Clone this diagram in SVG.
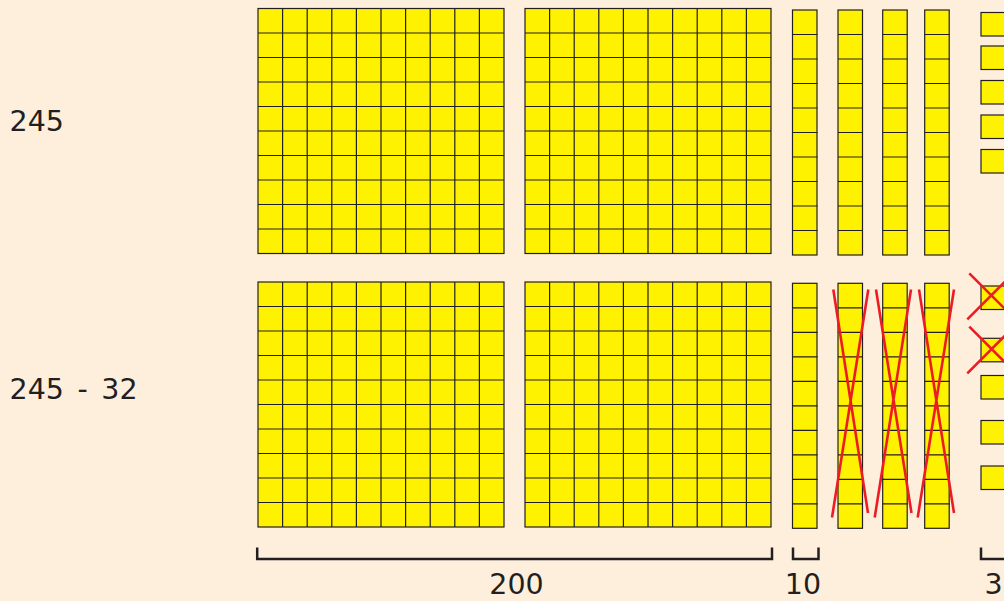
<svg xmlns="http://www.w3.org/2000/svg" xmlns:xlink="http://www.w3.org/1999/xlink" width="1004" height="601" viewBox="0 0 1004 601">
<style>
.blk{fill:#fff200;stroke:#231f20;stroke-width:1.2}
.grid{fill:none;stroke:#231f20;stroke-width:1.2}
.strike{stroke:#ed1c24;stroke-width:2.6;fill:none;stroke-linecap:butt}
.brk{fill:none;stroke:#231f20;stroke-width:2.5}
.lbl{font-family:"DejaVu Sans","Verdana",sans-serif;font-size:28.5px;fill:#231f20}
</style>
<defs>
<g id="hundred">
<rect class="blk" x="0" y="0" width="246" height="245"/>
<path class="grid" d="M24.6 0V245M49.2 0V245M73.8 0V245M98.4 0V245M123 0V245M147.6 0V245M172.2 0V245M196.8 0V245M221.4 0V245M0 24.5H246M0 49H246M0 73.5H246M0 98H246M0 122.5H246M0 147H246M0 171.5H246M0 196H246M0 220.5H246"/>
</g>
<g id="ten">
<rect class="blk" x="0" y="0" width="24.5" height="245"/>
<path class="grid" d="M0 24.5H25M0 49H25M0 73.5H25M0 98H25M0 122.5H25M0 147H25M0 171.5H25M0 196H25M0 220.5H25"/>
</g>
<rect id="one" class="blk" x="0" y="0" width="24" height="23.5"/>
</defs>
<rect width="1004" height="601" fill="#fdefdc"/>

<g id="label-245"><text class="lbl" x="9.5" y="131">245</text></g>
<g id="label-245-32"><text class="lbl" x="9.5" y="399" word-spacing="4.5">245 - 32</text></g>

<g id="top-hundred-1"><use xlink:href="#hundred" x="258" y="8.5"/></g>
<g id="top-hundred-2"><use xlink:href="#hundred" x="525" y="8.5"/></g>
<g id="top-ten-1"><use xlink:href="#ten" x="792.5" y="10"/></g>
<g id="top-ten-2"><use xlink:href="#ten" x="838" y="10"/></g>
<g id="top-ten-3"><use xlink:href="#ten" x="882.7" y="10"/></g>
<g id="top-ten-4"><use xlink:href="#ten" x="924.7" y="10"/></g>
<g id="top-units">
<use xlink:href="#one" x="981" y="12.5"/>
<use xlink:href="#one" x="981" y="46"/>
<use xlink:href="#one" x="981" y="80.5"/>
<use xlink:href="#one" x="981" y="115"/>
<use xlink:href="#one" x="981" y="149.5"/>
</g>

<g id="bottom-hundred-1"><use xlink:href="#hundred" x="258" y="282"/></g>
<g id="bottom-hundred-2"><use xlink:href="#hundred" x="525" y="282"/></g>
<g id="bottom-ten-1"><use xlink:href="#ten" x="792.5" y="283.3"/></g>
<g id="bottom-ten-2"><use xlink:href="#ten" x="838" y="283.3"/></g>
<g id="bottom-ten-3"><use xlink:href="#ten" x="882.7" y="283.3"/></g>
<g id="bottom-ten-4"><use xlink:href="#ten" x="924.7" y="283.3"/></g>
<g id="bottom-units">
<use xlink:href="#one" x="981" y="286"/>
<use xlink:href="#one" x="981" y="338.3"/>
<use xlink:href="#one" x="981" y="375.5"/>
<use xlink:href="#one" x="981" y="420.5"/>
<use xlink:href="#one" x="981" y="466"/>
</g>

<g id="strikes">
<path class="strike" d="M833.3 289.5L868 513M868.3 289.5L832 517.5"/>
<path class="strike" d="M876 289.5L911.5 513M911 289.5L874.7 517.5"/>
<path class="strike" d="M919 289.5L954 513M954 289.5L917.7 517.5"/>
<path class="strike" d="M969.3 273.3L1018 322M967.3 319.3L1018 268.6"/>
<path class="strike" d="M969.3 326.7L1018 375.4M967.3 373.3L1018 322.6"/>
</g>

<g id="brackets">
<path class="brk" d="M257.2 547.5V559H772V547.5"/>
<path class="brk" d="M793 547.5V559H818.5V547.5"/>
<path class="brk" d="M981 547.5V559H1010"/>
</g>
<g id="label-200"><text class="lbl" x="516.5" y="594" text-anchor="middle">200</text></g>
<g id="label-10"><text class="lbl" x="803" y="594" text-anchor="middle">10</text></g>
<g id="label-3"><text class="lbl" x="984.5" y="594">3</text></g>
</svg>
